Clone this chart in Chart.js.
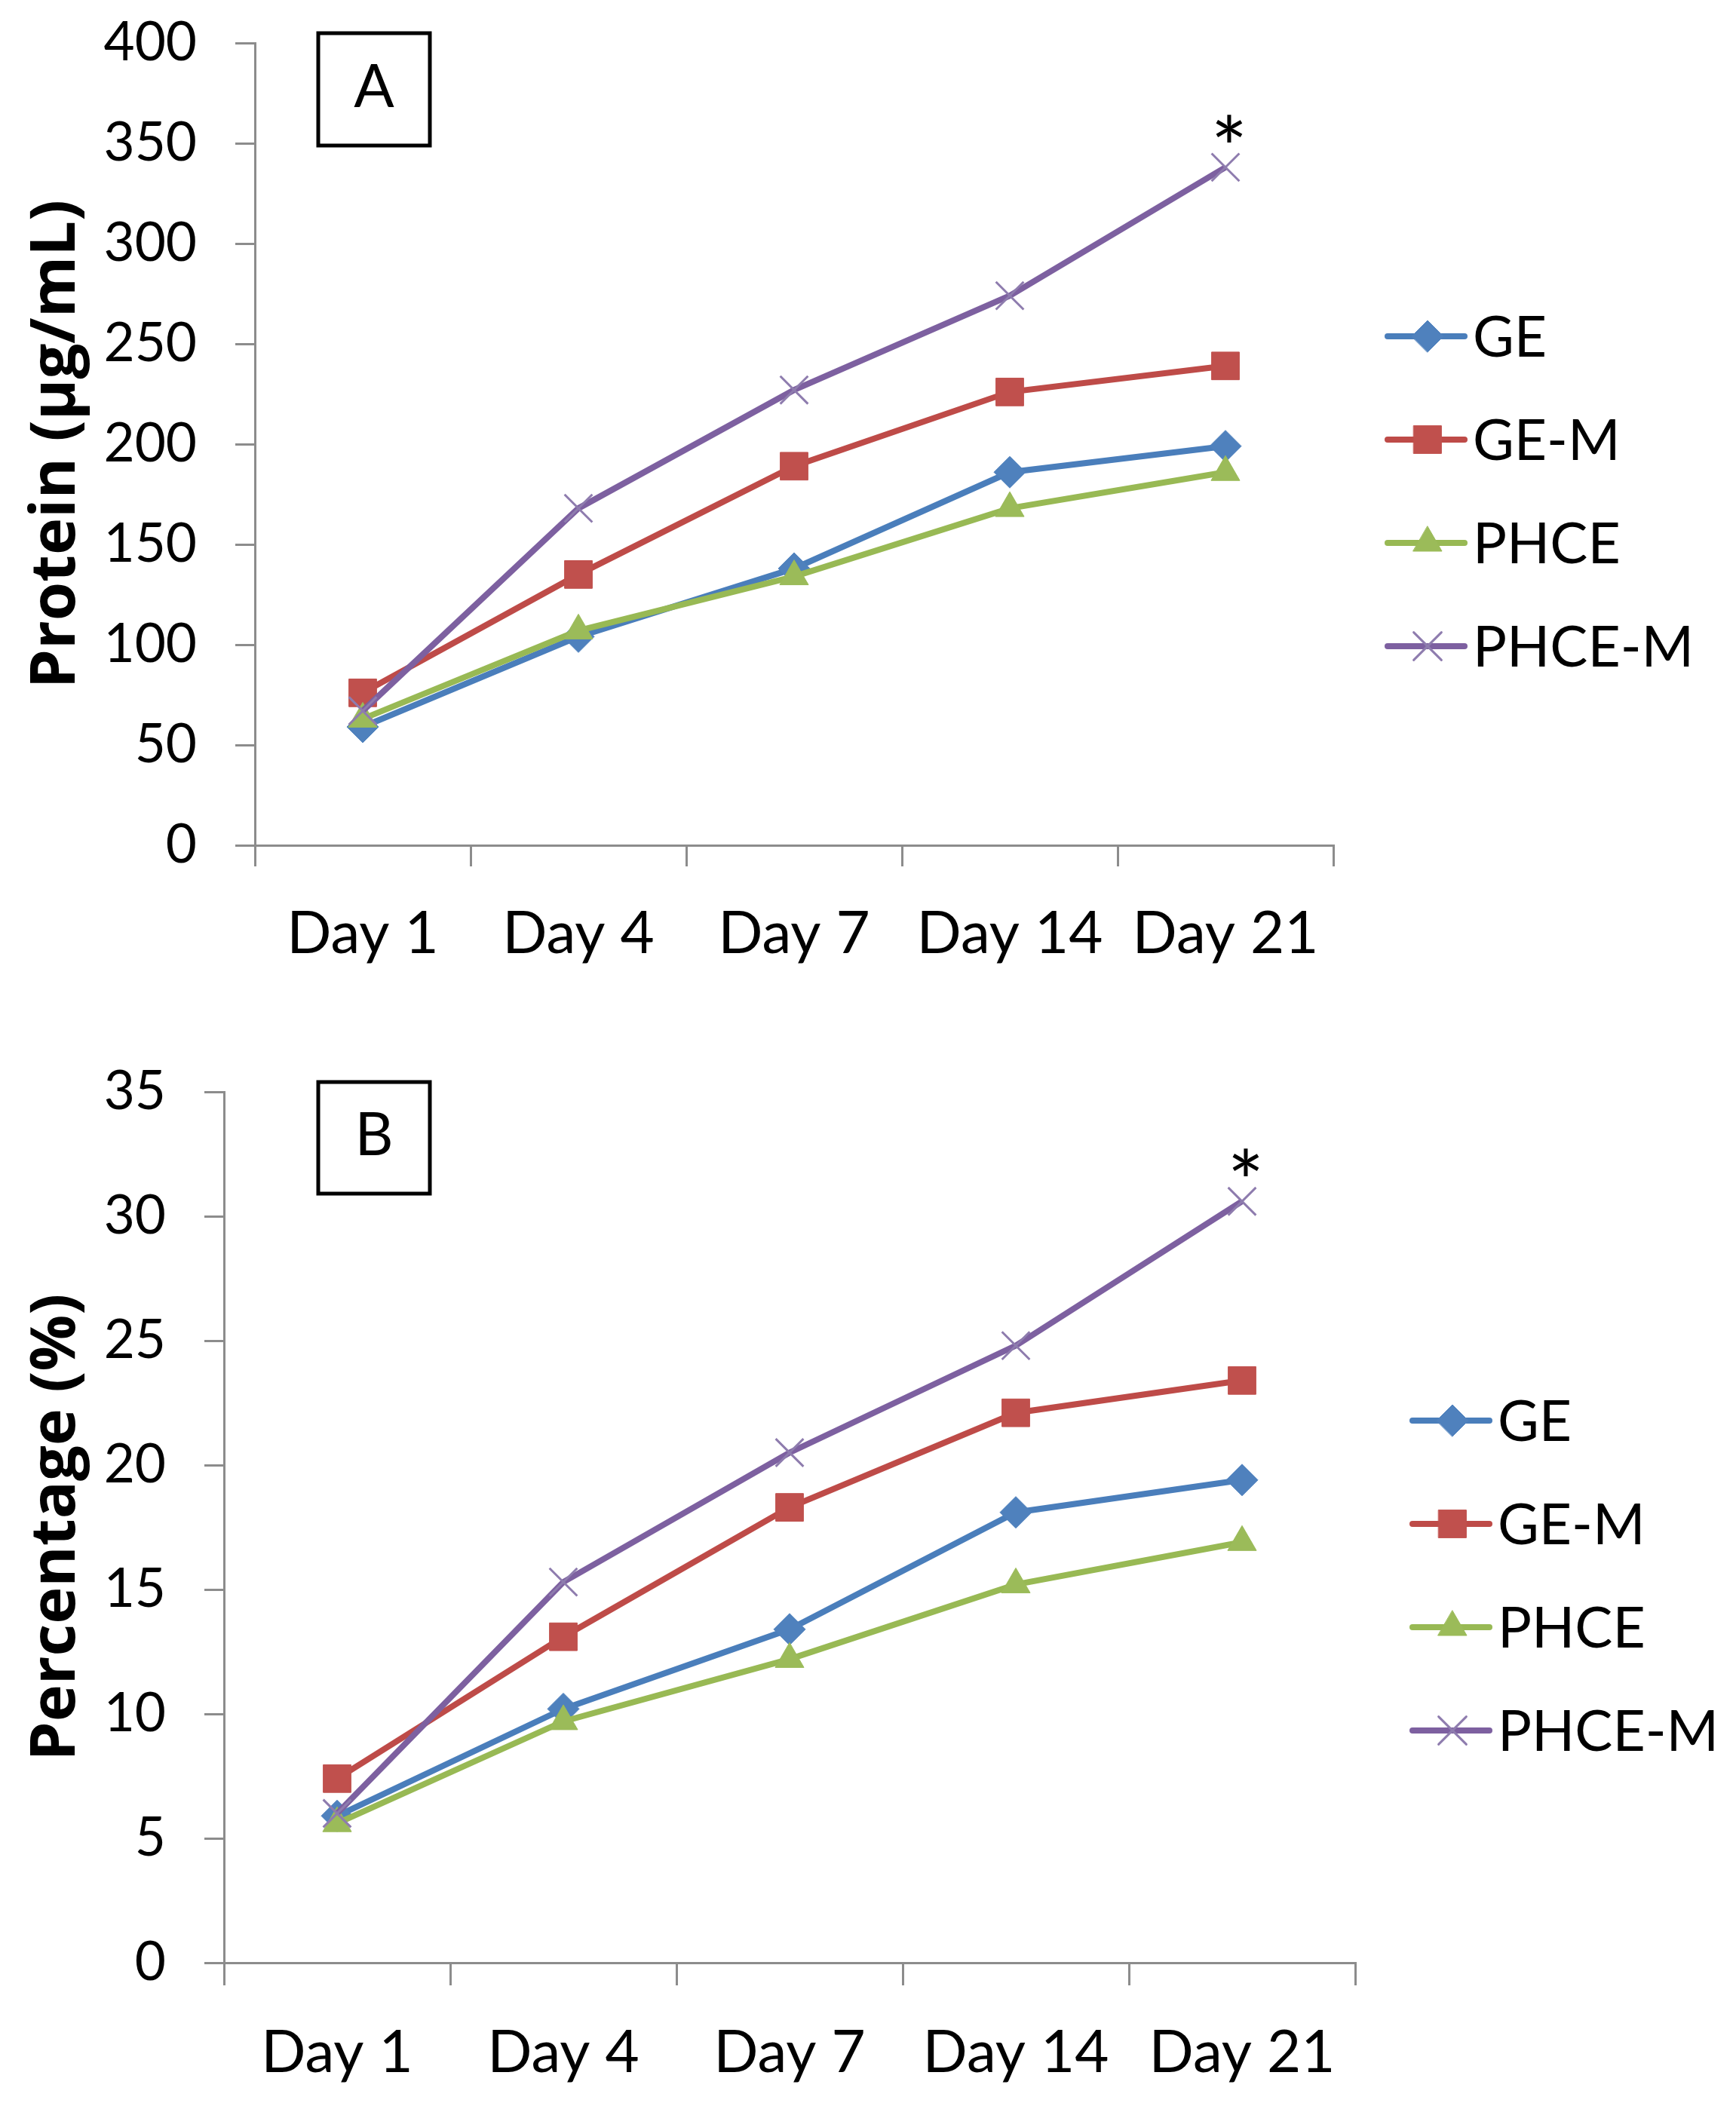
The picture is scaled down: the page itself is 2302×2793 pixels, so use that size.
<!DOCTYPE html>
<html>
<head>
<meta charset="utf-8">
<title>Protein / Percentage</title>
<script src="https://cdn.jsdelivr.net/npm/chart.js@4.4.1/dist/chart.umd.min.js"></script>
<style>
html, body { margin: 0; padding: 0; background: #fff; }
body { width: 2302px; height: 2793px; position: relative; overflow: hidden; }
canvas { position: absolute; left: 0; }
#chartA { top: 0; }
#chartB { top: 1380px; }
</style>
</head>
<body>
<canvas id="chartA" width="2302" height="1380"></canvas>
<canvas id="chartB" width="2302" height="1413"></canvas>
<script>
"use strict";
const days = ['Day 1', 'Day 4', 'Day 7', 'Day 14', 'Day 21'];
const seriesNames = ['GE', 'GE-M', 'PHCE', 'PHCE-M'];

// Panel A - protein (µg/mL)
const proteinGE = [59, 104, 138, 186, 199];
const proteinGEM = [76, 135, 189, 226, 239];
const proteinPHCE = [63, 107, 134, 168, 186];
const proteinPHCEM = [67, 168, 227, 274, 338];
const proteinTicks = [0, 50, 100, 150, 200, 250, 300, 350, 400];

// Panel B - percentage (%)
const percentGE = [5.9, 10.2, 13.4, 18.1, 19.4];
const percentGEM = [7.4, 13.1, 18.3, 22.1, 23.4];
const percentPHCE = [5.6, 9.7, 12.2, 15.2, 16.9];
const percentPHCEM = [6.0, 15.3, 20.5, 24.8, 30.6];
const percentTicks = [0, 5, 10, 15, 20, 25, 30, 35];

// significance star
const starSeries = 'PHCE-M';
const starDay = 'Day 21';

const AXIS_COLOR = '#8c8c8c';
const lineColors = ['#4A7EBB', '#BE4B48', '#98B954', '#7D60A0'];
const markerColors = ['#4F81BD', '#C0504D', '#9BBB59', '#8064A2'];
const markerBorders = ['#4F81BD', '#C0504D', '#9BBB59', '#8E7CAE'];
const pointStyles = ['rectRot', 'rect', 'triangle', 'crossRot'];
const pointSizes = [21, 26, 22, 26];
const pointBorderWidths = [1, 1, 1, 3];

const charts = {};

const panels = [
    {
        id: 'chartA', height: 1380, letter: 'A', title: 'Protein (µg/mL)',
        series: [proteinGE, proteinGEM, proteinPHCE, proteinPHCEM], ticks: proteinTicks,
        area: { left: 338, top: 57, right: 1768, bottom: 1121 },
        xTick: 28, box: { x: 422, y: 44, w: 148, h: 149 },
        legend: { x: 1840, y: 446, step: 137 }
    },
    {
        id: 'chartB', height: 1413, letter: 'B', title: 'Percentage (%)',
        series: [percentGE, percentGEM, percentPHCE, percentPHCEM], ticks: percentTicks,
        area: { left: 297, top: 68, right: 1797, bottom: 1223 },
        xTick: 30, box: { x: 422, y: 55, w: 148, h: 148 },
        legend: { x: 1873, y: 504, step: 137 }
    }
];

// boite A/B, etoile et legende dessinees a la main
const extrasPlugin = {
    id: 'extras',
    afterDraw(chart, args, opts) {
        const p = opts.panel;
        const ctx = chart.ctx;
        ctx.save();
        // lettre encadree
        ctx.strokeStyle = '#000';
        ctx.lineWidth = 5;
        ctx.strokeRect(p.box.x, p.box.y, p.box.w, p.box.h);
        ctx.fillStyle = '#000';
        ctx.font = '79px Lato';
        ctx.textAlign = 'center';
        ctx.textBaseline = 'middle';
        ctx.fillText(p.letter, p.box.x + p.box.w / 2, p.box.y + p.box.h / 2 - 2);
        // etoile
        const si = seriesNames.indexOf(starSeries);
        const pt = chart.getDatasetMeta(si).data[days.indexOf(starDay)];
        ctx.font = '115px Lato';
        ctx.textBaseline = 'alphabetic';
        ctx.fillText('*', pt.x + 5, pt.y + 16);
        // legende
        seriesNames.forEach((name, i) => {
            const y = p.legend.y + i * p.legend.step;
            ctx.strokeStyle = lineColors[i];
            ctx.lineWidth = 8;
            ctx.lineCap = 'round';
            ctx.beginPath();
            ctx.moveTo(p.legend.x, y);
            ctx.lineTo(p.legend.x + 102, y);
            ctx.stroke();
            ctx.fillStyle = markerColors[i];
            ctx.strokeStyle = markerBorders[i];
            ctx.lineWidth = pointBorderWidths[i];
            Chart.helpers.drawPoint(ctx, {
                pointStyle: pointStyles[i], radius: pointSizes[i], rotation: 0, borderWidth: pointBorderWidths[i]
            }, p.legend.x + 53, y);
            ctx.fillStyle = '#000';
            ctx.font = '75px Lato';
            ctx.textAlign = 'left';
            ctx.textBaseline = 'middle';
            ctx.fillText(name, p.legend.x + 113, y + 3);
        });
        ctx.restore();
    }
};

function initChart(p) {
    const ctx = document.getElementById(p.id);
    const ticks = p.ticks;
    p.xExtra = 0;
    p.yExtra = 0;
    charts[p.id] = new Chart(ctx, {
        type: 'line',
        data: {
            labels: days,
            datasets: seriesNames.map((name, i) => ({
                label: name,
                data: p.series[i],
                borderColor: lineColors[i],
                backgroundColor: markerColors[i],
                pointBackgroundColor: markerColors[i],
                pointBorderColor: markerBorders[i],
                pointBorderWidth: pointBorderWidths[i],
                pointStyle: pointStyles[i],
                pointRadius: pointSizes[i],
                borderWidth: 8,
                tension: 0,
                fill: false,
                order: seriesNames.length - i
            }))
        },
        options: {
            responsive: false,
            devicePixelRatio: 1,
            animation: false,
            events: [],
            layout: { padding: { top: p.area.top, right: 2302 - p.area.right, bottom: 0, left: 0 } },
            plugins: {
                legend: { display: false },
                tooltip: { enabled: false },
                extras: { panel: p }
            },
            scales: {
                x: {
                    type: 'category',
                    offset: true,
                    grid: { offset: true, drawOnChartArea: false, tickLength: p.xTick, color: AXIS_COLOR, lineWidth: 3 },
                    border: { color: AXIS_COLOR, width: 3 },
                    ticks: { color: '#000', font: { family: 'Lato', size: 78 }, padding: 43, maxRotation: 0, autoSkip: false },
                    afterFit: s => { s.height = p.height - p.area.bottom + p.xExtra; }
                },
                y: {
                    min: ticks[0],
                    max: ticks[ticks.length - 1],
                    ticks: { stepSize: ticks[1] - ticks[0], color: '#000', font: { family: 'Lato', size: 71 }, padding: 51 },
                    grid: { drawOnChartArea: false, tickLength: 26, color: AXIS_COLOR, lineWidth: 3 },
                    border: { color: AXIS_COLOR, width: 3 },
                    title: {
                        display: true, text: p.title, color: '#000',
                        font: { family: 'Open Sans', weight: 'bold', size: 83 },
                        padding: { top: 26, bottom: 0 }
                    },
                    afterFit: s => {
                        s.width = p.area.left + p.yExtra;
                        // pas de marge automatique au-dessus de l'axe
                        s.paddingTop = 0;
                        s.paddingBottom = 0;
                    }
                }
            }
        },
        plugins: [extrasPlugin]
    });
    fitArea(charts[p.id], p);
}

// recale la zone du graphique sur la position voulue
function fitArea(chart, p) {
    for (let k = 0; k < 3; k++) {
        const a = chart.chartArea;
        const raw = chart.config.options.layout.padding;
        const pad = {
            top: raw.top + p.area.top - a.top,
            right: raw.right + a.right - p.area.right,
            bottom: 0,
            left: 0
        };
        chart.config.options.layout = { padding: pad };
        p.xExtra += a.bottom - p.area.bottom;
        p.yExtra += p.area.left - a.left;
        chart.update();
    }
}

window.addEventListener('DOMContentLoaded', () => {
    Promise.all([
        document.fonts.load('68px Lato'),
        document.fonts.load('bold 78px "Open Sans"')
    ]).catch(() => {}).then(() => {
        panels.forEach(p => initChart(p));
    });
});
</script>
</body>
</html>
